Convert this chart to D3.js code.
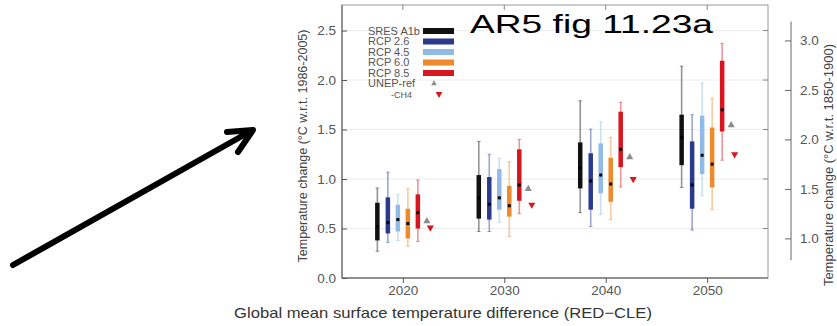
<!DOCTYPE html>
<html><head><meta charset="utf-8">
<script src="https://cdn.jsdelivr.net/npm/d3@7"></script>
<style>body{margin:0;background:#fff}svg{display:block}text{font-family:"Liberation Sans",Arial,sans-serif}</style>
</head><body>
<svg id="c" width="837" height="326"></svg>
<script>
const years = [2020, 2030, 2040, 2050];
const scenarios = ["SRES A1b", "RCP 2.6", "RCP 4.5", "RCP 6.0", "RCP 8.5"];
const scenarioColors = ["#111111", "#2b3a8c", "#8fbbe6", "#ee8a2c", "#d8161f"];
// per scenario (rows) per year (columns)
const rangeMin = [
  [0.27, 0.47, 0.66, 0.915],
  [0.36, 0.47, 0.52, 0.485],
  [0.38, 0.56, 0.64, 0.83],
  [0.32, 0.42, 0.59, 0.69],
  [0.37, 0.65, 0.92, 1.19]];
const rangeMax = [
  [0.91, 1.38, 1.79, 2.14],
  [1.07, 1.25, 1.505, 1.65],
  [0.845, 1.21, 1.58, 1.97],
  [0.905, 1.175, 1.42, 1.815],
  [0.99, 1.40, 1.775, 2.37]];
const boxLow = [
  [0.38, 0.60, 0.905, 1.14],
  [0.45, 0.59, 0.69, 0.70],
  [0.47, 0.69, 0.855, 1.05],
  [0.40, 0.62, 0.77, 0.915],
  [0.50, 0.78, 1.12, 1.48]];
const boxHigh = [
  [0.76, 1.04, 1.37, 1.65],
  [0.815, 1.02, 1.26, 1.38],
  [0.74, 1.10, 1.36, 1.64],
  [0.70, 0.93, 1.215, 1.52],
  [0.845, 1.30, 1.68, 2.195]];
const medians = [
  [0.52, 0.81, 1.11, 1.42],
  [0.56, 0.745, 0.98, 0.94],
  [0.59, 0.81, 1.04, 1.24],
  [0.55, 0.73, 0.95, 1.15],
  [0.66, 0.94, 1.30, 1.70]];
const unepRef = [0.575, 0.90, 1.22, 1.545];
const unepCH4 = [0.51, 0.74, 1.00, 1.25];
const leftTicks = [0.0, 0.5, 1.0, 1.5, 2.0, 2.5];
const rightTicks = [1.0, 1.5, 2.0, 2.5, 3.0];
const preindustrialOffset = 0.6;

const svg = d3.select("#c");
const L = 342, R = 768, T = 5, B = 278;
const x = d3.scaleLinear().domain([2014, 2056]).range([L, R]);
const y = d3.scaleLinear().domain([0, 2.758]).range([B, T]);
const yR = d3.scaleLinear().domain([preindustrialOffset, 2.758 + preindustrialOffset]).range([B, T]);

// gridlines
svg.append("g").selectAll("line").data(leftTicks.slice(1)).join("line")
  .attr("x1", L).attr("x2", R).attr("y1", d => y(d)).attr("y2", d => y(d))
  .attr("stroke", "#ececec").attr("stroke-width", 1);

// frame
svg.append("rect").attr("x", L).attr("y", T).attr("width", R - L).attr("height", B - T)
  .attr("fill", "none").attr("stroke", "#9a9a9a").attr("stroke-width", 1);
svg.append("line").attr("x1", L).attr("x2", L).attr("y1", T).attr("y2", B).attr("stroke", "#555");
svg.append("line").attr("x1", L).attr("x2", R).attr("y1", B).attr("y2", B).attr("stroke", "#555");

// left axis
const gl = svg.append("g").attr("transform", `translate(${L},0)`)
  .call(d3.axisLeft(y).tickValues(leftTicks).tickFormat(d3.format(".1f")).tickSize(-5).tickPadding(6));
gl.select(".domain").remove();
gl.selectAll("line").attr("stroke", "#555");
gl.selectAll("text").attr("font-size", 13.5).attr("fill", "#555").attr("font-family", "Liberation Sans, Arial, sans-serif");
// right frame ticks
svg.append("g").selectAll("line").data(leftTicks.slice(1)).join("line")
  .attr("x1", R - 5).attr("x2", R).attr("y1", d => y(d)).attr("y2", d => y(d)).attr("stroke", "#888");

// bottom axis
const gb = svg.append("g").attr("transform", `translate(0,${B})`)
  .call(d3.axisBottom(x).tickValues(years).tickFormat(d3.format("d")).tickSize(5).tickPadding(2));
gb.select(".domain").remove();
gb.selectAll("line").attr("stroke", "#555");
gb.selectAll("text").attr("font-size", 13.5).attr("fill", "#555").attr("font-family", "Liberation Sans, Arial, sans-serif");
// top ticks
svg.append("g").selectAll("line").data(years).join("line")
  .attr("x1", d => x(d)).attr("x2", d => x(d)).attr("y1", T).attr("y2", T + 5).attr("stroke", "#888");

// right axis
const RX = 791;
const gr = svg.append("g").attr("transform", `translate(${RX},0)`)
  .call(d3.axisRight(yR).tickValues(rightTicks).tickFormat(d3.format(".1f")).tickSize(-6).tickPadding(9));
gr.select(".domain").remove();
gr.selectAll("line").attr("stroke", "#666");
gr.selectAll("text").attr("font-size", 13.5).attr("fill", "#555").attr("font-family", "Liberation Sans, Arial, sans-serif");
svg.append("line").attr("x1", RX).attr("x2", RX).attr("y1", yR(3.19)).attr("y2", yR(0.78)).attr("stroke", "#666");

// axis titles
svg.append("text").attr("transform", `translate(307,146) rotate(-90)`).attr("text-anchor", "middle")
  .attr("font-size", 12.5).attr("fill", "#444").text("Temperature change (°C w.r.t. 1986-2005)");
svg.append("text").attr("transform", `translate(833,165) rotate(-90)`).attr("text-anchor", "middle")
  .attr("font-size", 13).attr("fill", "#444").text("Temperature change (°C w.r.t. 1850-1900)");

// boxes
const offsets = [-25.5, -15, -5, 5, 15];
const g = svg.append("g");
scenarios.forEach((s, i) => {
  years.forEach((yr, j) => {
    const cx = x(yr) + offsets[i];
    g.append("line").attr("x1", cx).attr("x2", cx).attr("y1", y(rangeMin[i][j])).attr("y2", y(rangeMax[i][j]))
      .attr("stroke", scenarioColors[i]).attr("stroke-opacity", 0.45).attr("stroke-width", 1.6);
    [rangeMin[i][j], rangeMax[i][j]].forEach(v => {
      g.append("line").attr("x1", cx - 1.8).attr("x2", cx + 1.8).attr("y1", y(v)).attr("y2", y(v))
        .attr("stroke", scenarioColors[i]).attr("stroke-opacity", 0.45).attr("stroke-width", 1);
    });
    g.append("rect").attr("x", cx - 2.25).attr("width", 4.5).attr("y", y(boxHigh[i][j]))
      .attr("height", y(boxLow[i][j]) - y(boxHigh[i][j])).attr("fill", scenarioColors[i]);
    g.append("rect").attr("x", cx - 1.5).attr("width", 3).attr("y", y(medians[i][j]) - 1.5).attr("height", 3).attr("fill", "#000");
  });
});
const triUp = d3.symbol().type(d3.symbolTriangle).size(22);
g.selectAll(".tu").data(years).join("path").attr("d", triUp)
  .attr("transform", (d, j) => `translate(${x(d) + 24},${y(unepRef[j])})`).attr("fill", "#8c8c8c");
g.selectAll(".td").data(years).join("path").attr("d", triUp)
  .attr("transform", (d, j) => `translate(${x(d) + 27.5},${y(unepCH4[j])}) rotate(180)`).attr("fill", "#d8161f");

// legend
const lg = svg.append("g");
const rowY = i => 31 + i * 10.5;
scenarios.forEach((s, i) => {
  lg.append("text").attr("x", 368).attr("y", rowY(i) + 3.8).attr("font-size", 11).attr("fill", "#555").text(s);
  lg.append("rect").attr("x", 423).attr("y", rowY(i) - 3).attr("width", 31).attr("height", 6).attr("fill", scenarioColors[i]);
});
lg.append("text").attr("x", 368).attr("y", rowY(5) + 3.8).attr("font-size", 11).attr("fill", "#555").text("UNEP-ref");
lg.append("text").attr("x", 391).attr("y", rowY(6) + 3.5).attr("font-size", 9).attr("fill", "#555").text("-CH4");
lg.append("path").attr("d", d3.symbol().type(d3.symbolTriangle).size(14)).attr("transform", `translate(434,${rowY(5)})`).attr("fill", "#8c8c8c");
lg.append("path").attr("d", d3.symbol().type(d3.symbolTriangle).size(20)).attr("transform", `translate(439,${rowY(6)}) rotate(180)`).attr("fill", "#d8161f");

// title annotation
svg.append("text").attr("x", 470).attr("y", 33).attr("font-size", 25.5).attr("fill", "#000")
  .attr("textLength", 243).attr("lengthAdjust", "spacingAndGlyphs").text("AR5 fig 11.23a");

// caption
svg.append("text").attr("x", 234).attr("y", 318).attr("font-size", 15).attr("fill", "#333")
  .attr("textLength", 418).attr("lengthAdjust", "spacingAndGlyphs").text("Global mean surface temperature difference (RED\u2212CLE)");

// arrow
const arrow = svg.append("g").attr("stroke", "#000").attr("stroke-width", 6).attr("stroke-linecap", "round").attr("stroke-linejoin", "round").attr("fill", "none");
arrow.append("line").attr("x1", 13).attr("y1", 265).attr("x2", 251).attr("y2", 131);
arrow.append("path").attr("d", "M227,132 L253,130 L238,152");
</script>
</body></html>
